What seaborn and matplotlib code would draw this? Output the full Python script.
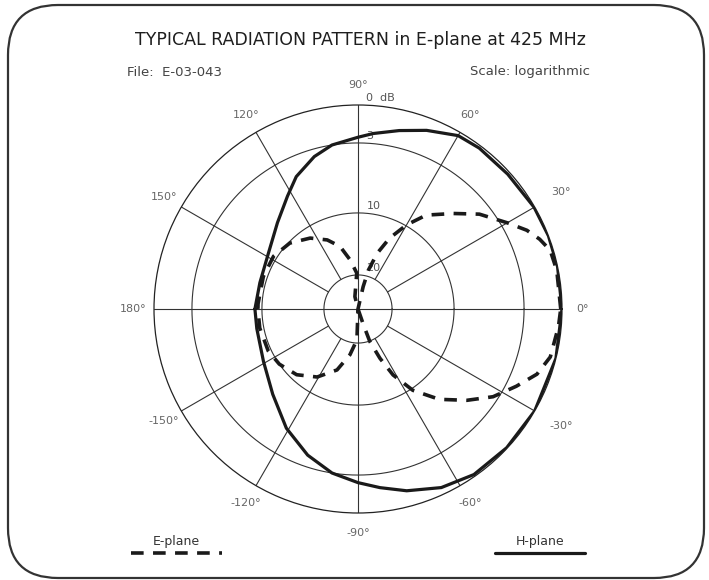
import matplotlib.pyplot as plt
import numpy as np
import seaborn as sns
from matplotlib.lines import Line2D
from matplotlib.patches import FancyBboxPatch

# dB levels of the chart paper and their radius (1 = outer 0 dB ring)
ring_db = [0, 3, 10, 20, 40]
ring_r = [1.0, 0.814, 0.471, 0.167, 0.0]
ring_labels = ["0  dB", "3", "10", "20"]

# H-plane pattern (solid), angle in degrees, level in dB below max
h_deg = [-180, -169, -151, -135, -121, -109, -99, -90, -83, -75, -65, -55,
         -43, -30, -14, 0, 12, 21, 30, 42, 53, 60, 69, 77, 85, 90, 99, 106,
         115, 122, 133, 148, 165, 180]
h_db = [9.3, 9.3, 8.8, 7.55, 5.7, 4.15, 3.0, 2.4, 1.9, 1.25, 0.55, 0.15,
        0.05, 0.0, 0.0, 0.0, 0.0, 0.0, 0.05, 0.2, 0.2, 0.3, 1.0, 1.65, 2.2,
        2.55, 3.0, 3.75, 5.0, 6.3, 7.8, 9.05, 9.45, 9.3]

# E-plane pattern (dashed), listed in drawing order: the figure-eight
# crosses itself at the centre
e_deg = [0, 11, 17, 21, 25, 30, 38, 45, 54, 60, 66, 71, 75, 77, 77,
         -92, -100, -109, -121, -133, -145, -155, -169, 180,
         177, 161, 148, 136, 124, 114, 106, 99, 92, 104, 100,
         -71, -70, -66, -62, -56, -48, -40, -33, -26, -20, -14, -5, 0]
e_db = [0.1, 0.12, 0.24, 0.74, 1.4, 2.5, 4.2, 6.1, 8.0, 9.9, 13.0, 16.0,
        19.0, 26.5, 40,
        21.9, 18.0, 15.1, 12.7, 11.0, 10.0, 9.7, 9.6, 9.6,
        9.6, 9.6, 9.65, 10.2, 11.7, 13.3, 15.0, 17.5, 19.7, 32.5, 40,
        30.3, 19.9, 16.8, 13.45, 9.8, 7.45, 5.4, 3.5, 2.2, 1.07, 0.46,
        0.22, 0.1]

angle_ticks = [0, 30, 60, 90, 120, 150, 180, 210, 240, 270, 300, 330]
angle_labels = ["0°", "30°", "60°", "90°", "120°", "150°", "180°",
                "-150°", "-120°", "-90°", "-60°", "-30°"]


def to_r(db):
    return np.interp(db, ring_db, ring_r)


def fx(x):
    return x / 709


def fy(y):
    return 1 - y / 580


sns.set_theme(style="white")
plt.rcParams["font.family"] = ["DejaVu Sans"]

fig = plt.figure(figsize=(7.09, 5.80), dpi=100)
fig.patch.set_facecolor("white")

# rounded frame
fig.add_artist(FancyBboxPatch((0.08, 0.02), 6.96, 5.73,
                              boxstyle="round,pad=0,rounding_size=0.5",
                              transform=fig.dpi_scale_trans, fill=False,
                              edgecolor="#333333", linewidth=1.6))

ax = fig.add_axes([fx(154), fy(513), 408 / 709, 408 / 580], projection="polar")
ax.set_ylim(0, 1)
ax.grid(False)
ax.set_xticks([])
ax.set_yticks([])
ax.set_facecolor("none")
ax.spines["polar"].set_linewidth(0.9)
ax.spines["polar"].set_color("#222222")

grid_kw = dict(color="#333333", lw=0.8, zorder=1)
full = np.linspace(0, 2 * np.pi, 361)
for r in ring_r[1:4]:
    ax.plot(full, np.full_like(full, r), **grid_kw)
for a in angle_ticks:
    inner = 0 if a % 90 == 0 else ring_r[3]
    ax.plot([np.deg2rad(a)] * 2, [inner, 1], **grid_kw)

# angle labels
for a, lab in zip(angle_ticks, angle_labels):
    rr = 1.15 if a in (30, 330) else 1.1
    ax.text(np.deg2rad(a), rr, lab, ha="center", va="center",
            fontsize=8, color="#666666")

# ring labels
for r, lab in zip(ring_r[:4], ring_labels):
    ax.annotate(lab, xy=(np.pi / 2, r), xytext=(6, 1.5),
                textcoords="offset points", ha="left", va="bottom",
                fontsize=8, color="#555555")

sns.lineplot(x=np.deg2rad(h_deg), y=to_r(h_db), ax=ax, sort=False,
             estimator=None, color="#1a1a1a", lw=2.3, zorder=3,
             solid_joinstyle="round")
sns.lineplot(x=np.deg2rad(e_deg), y=to_r(e_db), ax=ax, sort=False,
             estimator=None, color="#1a1a1a", lw=2.6, zorder=3,
             linestyle=(0, (3.5, 2.6)), dash_joinstyle="round")

fig.text(fx(360), fy(40), "TYPICAL RADIATION PATTERN in E-plane at 425 MHz",
         ha="center", va="center", fontsize=12.5, color="#1e1e1e")
fig.text(fx(127), fy(72), "File:  E-03-043", ha="left", va="center",
         fontsize=9.5, color="#444444")
fig.text(fx(590), fy(72), "Scale: logarithmic", ha="right", va="center",
         fontsize=9.5, color="#444444")

# legend marks at the bottom
fig.text(fx(176), fy(542), "E-plane", ha="center", va="center",
         fontsize=9, color="#333333")
fig.add_artist(Line2D([fx(131), fx(222)], [fy(553), fy(553)], color="#1a1a1a",
                      lw=2.6, linestyle=(0, (3.5, 2.6)),
                      transform=fig.transFigure))
fig.text(fx(540), fy(542), "H-plane", ha="center", va="center",
         fontsize=9, color="#333333")
fig.add_artist(Line2D([fx(495), fx(585)], [fy(553), fy(553)], color="#1a1a1a",
                      lw=2.3, transform=fig.transFigure))

fig.savefig("out.png", dpi=100)
